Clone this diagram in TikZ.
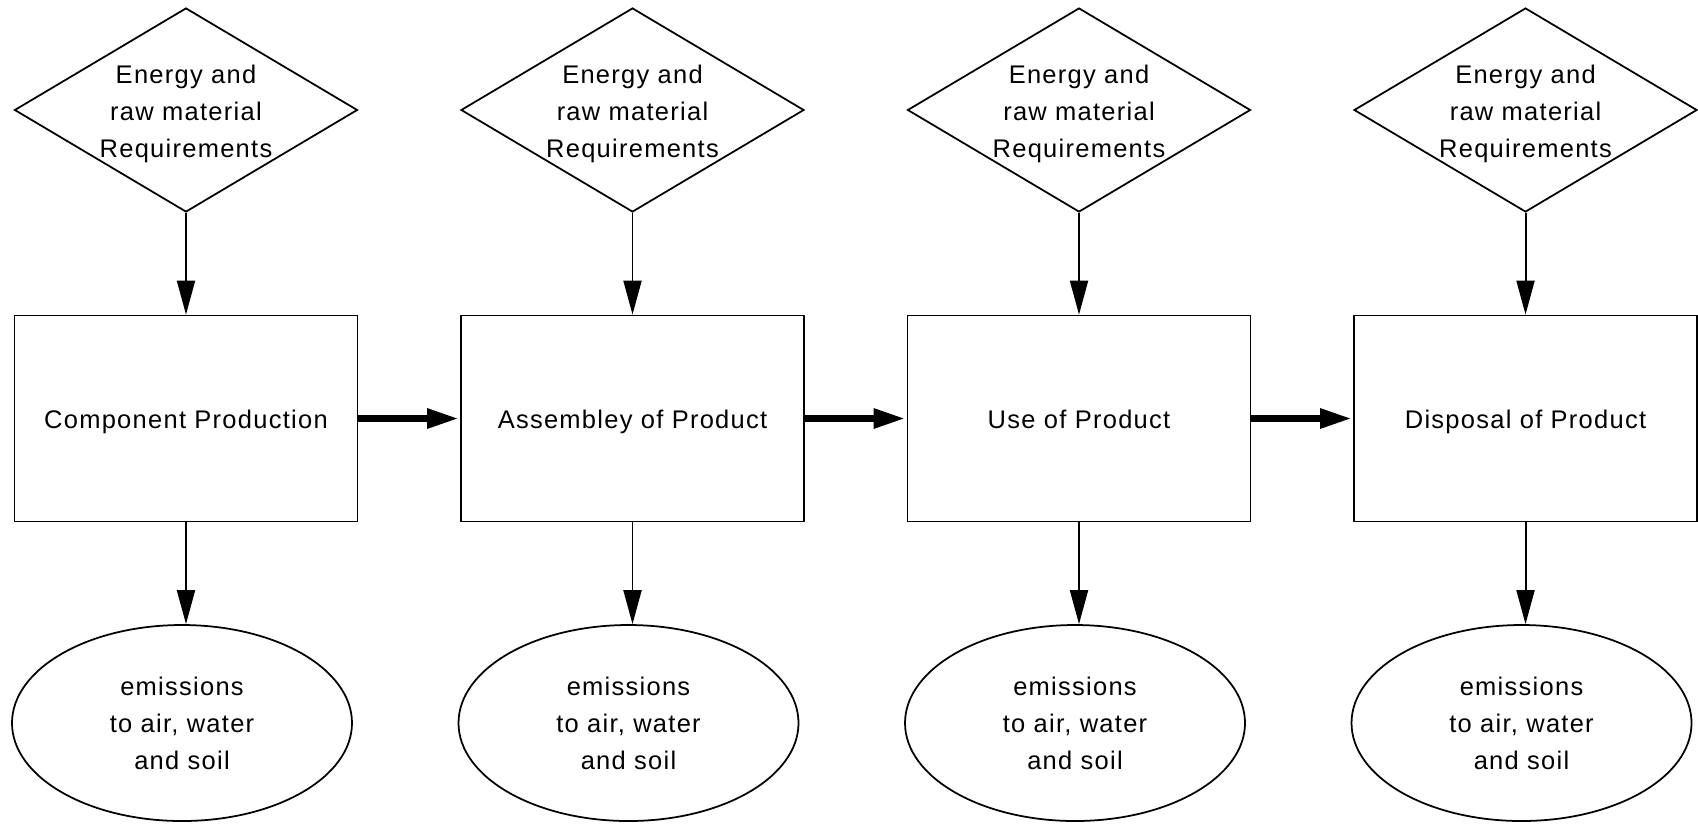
\documentclass[tikz,border=0pt]{standalone}
\usepackage{fontspec}
\setmainfont[LetterSpace=5]{Liberation Sans}
\usetikzlibrary{positioning,arrows.meta,shapes.geometric}

\begin{document}
\begin{tikzpicture}[
  node distance=2.035cm,
  need/.style={diamond, draw, line width=1pt,
    minimum width=6.86cm, minimum height=4.08cm, inner sep=0pt},
  needtext/.style={align=center, yshift=-0.08cm,
    font=\fontsize{14.5}{21}\selectfont},
  stage/.style={rectangle, draw, line width=1pt,
    minimum width=6.86cm, minimum height=4.12cm,
    text height=1.5ex+0.16cm, text depth=.3ex,
    align=center, font=\fontsize{14.5}{21}\selectfont},
  emit/.style={ellipse, draw, line width=1pt,
    minimum width=6.8cm, minimum height=3.92cm,
    align=center, font=\fontsize{14.5}{21}\selectfont},
  feed/.style={-{Triangle[length=0.68cm, width=0.36cm]}, line width=1.1pt},
  flow/.style={-{Triangle[length=0.66cm, width=0.36cm]}, line width=4.5pt}
]
\useasboundingbox (0,0) rectangle (33.96,-16.48);
% column 1
\node[need] (need1) at (3.72,-2.2) {};
\node[needtext] (needlbl1) at (need1) {Energy and\\raw material\\Requirements};
\node[stage, below=of need1] (stage1) {Component Production};
\node[emit, below=of stage1, xshift=-0.08cm] (emit1) {emissions\\to air, water\\and soil};
% column 2
\node[stage, right=of stage1] (stage2) {Assembley of Product};
\node[need, above=of stage2] (need2) {};
\node[needtext] (needlbl2) at (need2) {Energy and\\raw material\\Requirements};
\node[emit, below=of stage2, xshift=-0.08cm] (emit2) {emissions\\to air, water\\and soil};
% column 3
\node[stage, right=of stage2] (stage3) {Use of Product};
\node[need, above=of stage3] (need3) {};
\node[needtext] (needlbl3) at (need3) {Energy and\\raw material\\Requirements};
\node[emit, below=of stage3, xshift=-0.08cm] (emit3) {emissions\\to air, water\\and soil};
% column 4
\node[stage, right=of stage3] (stage4) {Disposal of Product};
\node[need, above=of stage4] (need4) {};
\node[needtext] (needlbl4) at (need4) {Energy and\\raw material\\Requirements};
\node[emit, below=of stage4, xshift=-0.08cm] (emit4) {emissions\\to air, water\\and soil};
% connectors
\draw[feed] (need1) -- (need1 |- stage1.north);
\draw[feed] (need2) -- (need2 |- stage2.north);
\draw[feed] (need3) -- (need3 |- stage3.north);
\draw[feed] (need4) -- (need4 |- stage4.north);
\draw[feed] (stage1) -- (stage1 |- emit1.north);
\draw[feed] (stage2) -- (stage2 |- emit2.north);
\draw[feed] (stage3) -- (stage3 |- emit3.north);
\draw[feed] (stage4) -- (stage4 |- emit4.north);
\draw[flow] (stage1) -- (stage2);
\draw[flow] (stage2) -- (stage3);
\draw[flow] (stage3) -- (stage4);
\end{tikzpicture}
\end{document}
